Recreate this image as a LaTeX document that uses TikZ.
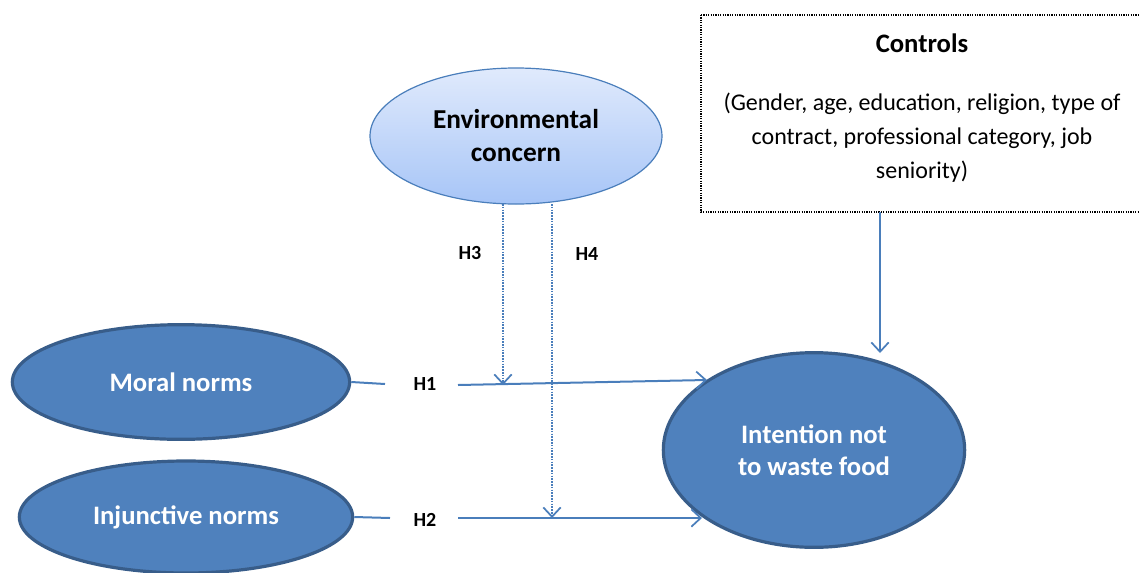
\documentclass[tikz,border=0pt]{standalone}
\usepackage{fontspec}
\setmainfont{Carlito}
\usetikzlibrary{shapes.geometric,arrows.meta}
\definecolor{dkblue}{HTML}{4F81BD}
\definecolor{dkedge}{HTML}{385D8A}
\definecolor{lnblue}{HTML}{4A7EBB}
\definecolor{ltop}{HTML}{E0EAFC}
\definecolor{lbot}{HTML}{A7C5F7}
\tikzset{
  darkell/.style={ellipse, fill=dkblue, draw=dkedge, line width=2.4pt, text=white, font=\fontsize{20}{24}\selectfont\bfseries, align=center, inner sep=0pt},
  lightell/.style={ellipse, top color=ltop, bottom color=lbot, draw=lnblue, line width=0.9pt, font=\fontsize{20.5}{24.75}\selectfont\bfseries, align=center, inner sep=0pt},
  hlabel/.style={font=\fontsize{15}{17}\selectfont\bfseries, inner sep=0pt},
  link/.style={draw=lnblue, line width=1.5pt},
  arr/.style={link, -{Straight Barb[length=7pt, width=13pt, line width=1.3pt]}},
  dotarr/.style={arr, dash pattern=on 1.2pt off 0.9pt},
}
\begin{document}
\begin{tikzpicture}[x=0.75pt, y=-0.75pt]
\useasboundingbox (0,0) rectangle (1140,572);
% controls box
\draw[line width=0.8pt, dash pattern=on 0.9pt off 0.9pt] (701,15) -- (1150,15) (701,15) -- (701,212) -- (1150,212);
\node[font=\fontsize{20}{24}\selectfont\bfseries, inner sep=0pt] (ctitle) at (922,43) {Controls};
\node[font=\fontsize{18}{25.5}\selectfont, align=center, inner sep=0pt] (ctext) at (922,138) {(Gender, age, education, religion, type of\\contract, professional category, job\\seniority)};
\coordinate (ctl) at (880,212);
% ellipses
\node[lightell, minimum width=219pt, minimum height=102pt] (env) at (516,136) {Environmental\\concern};
\node[darkell, minimum width=253pt, minimum height=86pt] (moral) at (181,382) {Moral norms};
\node[darkell, minimum width=250pt, minimum height=84pt] (inj) at (186,517) {Injunctive norms};
\node[darkell, minimum width=226pt, minimum height=146pt, font=\fontsize{20}{24}\selectfont\bfseries] (int) at (814,450) {Intention not\\to waste food};
% labels
\node[hlabel] (h1) at (425,384) {H1};
\node[hlabel] (h2) at (425,520) {H2};
\node[hlabel] (h3) at (470,253) {H3};
\node[hlabel] (h4) at (587,254) {H4};
% coordinates
\coordinate (h1a) at (385,384);
\coordinate (h1b) at (458,385);
\coordinate (h1c) at (707,380);
\coordinate (h2a) at (390,518);
\coordinate (h2b) at (458,518);
\coordinate (h2c) at (702,518);
\coordinate (e3) at (503,204);
\coordinate (m3) at (503,385);
\coordinate (e4) at (552,204);
\coordinate (m4) at (552,518);
\coordinate (ctlend) at (880,353);
% connectors
\draw[link] (moral.east) -- (h1a);
\draw[arr] (h1b) -- (h1c);
\draw[link] (inj.east) -- (h2a);
\draw[arr] (h2b) -- (h2c);
\draw[dotarr] (e3) -- (m3);
\draw[dotarr] (e4) -- (m4);
\draw[arr] (ctl) -- (ctlend);
\end{tikzpicture}
\end{document}
